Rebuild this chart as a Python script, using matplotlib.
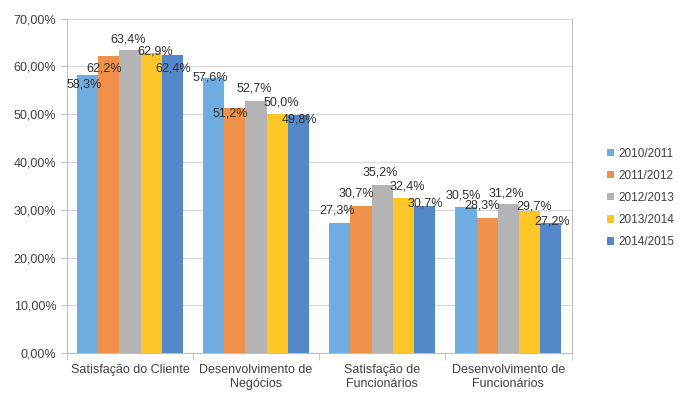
import numpy as np
import matplotlib.pyplot as plt

plt.rcParams['font.family'] = ['Liberation Sans', 'DejaVu Sans']

categorias = ['Satisfação do Cliente', 'Desenvolvimento de\nNegócios',
              'Satisfação de\nFuncionários', 'Desenvolvimento de\nFuncionários']
anos = ['2010/2011', '2011/2012', '2012/2013', '2013/2014', '2014/2015']
v2010 = [58.3, 57.6, 27.3, 30.5]
v2011 = [62.2, 51.2, 30.7, 28.3]
v2012 = [63.4, 52.7, 35.2, 31.2]
v2013 = [62.9, 50.0, 32.4, 29.7]
v2014 = [62.4, 49.8, 30.7, 27.2]
series = [v2010, v2011, v2012, v2013, v2014]
cores = ['#6face0', '#f0914b', '#b4b4b4', '#ffc62a', '#5588c9']

# deslocamento vertical dos rótulos (pixels acima do topo da barra), como no Excel
desloc = [[-10, 0, 12, 12],
          [-13, -5, 13, 12],
          [11, 13, 12, 11],
          [1, 12, 12, 5],
          [-13, -4, 3, 2]]
desloc_x = [-3, -5, -2, 4, 1]

fig = plt.figure(figsize=(6.82, 3.98), dpi=100)
ax = fig.add_axes([0.098, 0.113, 0.74, 0.84])

x = np.arange(len(categorias))
w = 0.168
for i, (vals, c) in enumerate(zip(series, cores)):
    pos = x + (i - 2) * w
    ax.bar(pos, vals, w, color=c, label=anos[i], zorder=3)
    for j, (p, v) in enumerate(zip(pos, vals)):
        ax.annotate(('%.1f%%' % v).replace('.', ','), (p, v),
                    xytext=(desloc_x[i] * 0.72, desloc[i][j] * 0.72), textcoords='offset points',
                    ha='center', va='center', fontsize=9, color='#303030', zorder=4)

ax.set_xlim(-0.5, len(categorias) - 0.5)
ax.set_ylim(0, 70)
ax.set_yticks(np.arange(0, 71, 10))
ax.set_yticklabels([('%.2f%%' % t).replace('.', ',') for t in np.arange(0, 71, 10)],
                   fontsize=9, color='#404040')
ax.set_xticks(x)
ax.set_xticklabels(categorias, fontsize=9, color='#404040')
ax.set_xticks(np.arange(-0.5, len(categorias)), minor=True)
ax.tick_params(axis='x', which='major', length=0, pad=8)
ax.tick_params(axis='x', which='minor', length=5, color='#bfbfbf')
ax.tick_params(axis='y', length=4, color='#bfbfbf')
ax.grid(axis='y', color='#d9d9d9', linewidth=0.9, zorder=0)
for s in ax.spines.values():
    s.set_color('#bfbfbf')
ax.spines['top'].set_visible(False)

ax.legend(loc='center left', bbox_to_anchor=(1.05, 0.464), frameon=False, fontsize=8.5,
          handlelength=0.6, handleheight=0.6, handletextpad=0.3, labelspacing=0.85,
          labelcolor='#404040')

plt.savefig('out.png', dpi=100)
